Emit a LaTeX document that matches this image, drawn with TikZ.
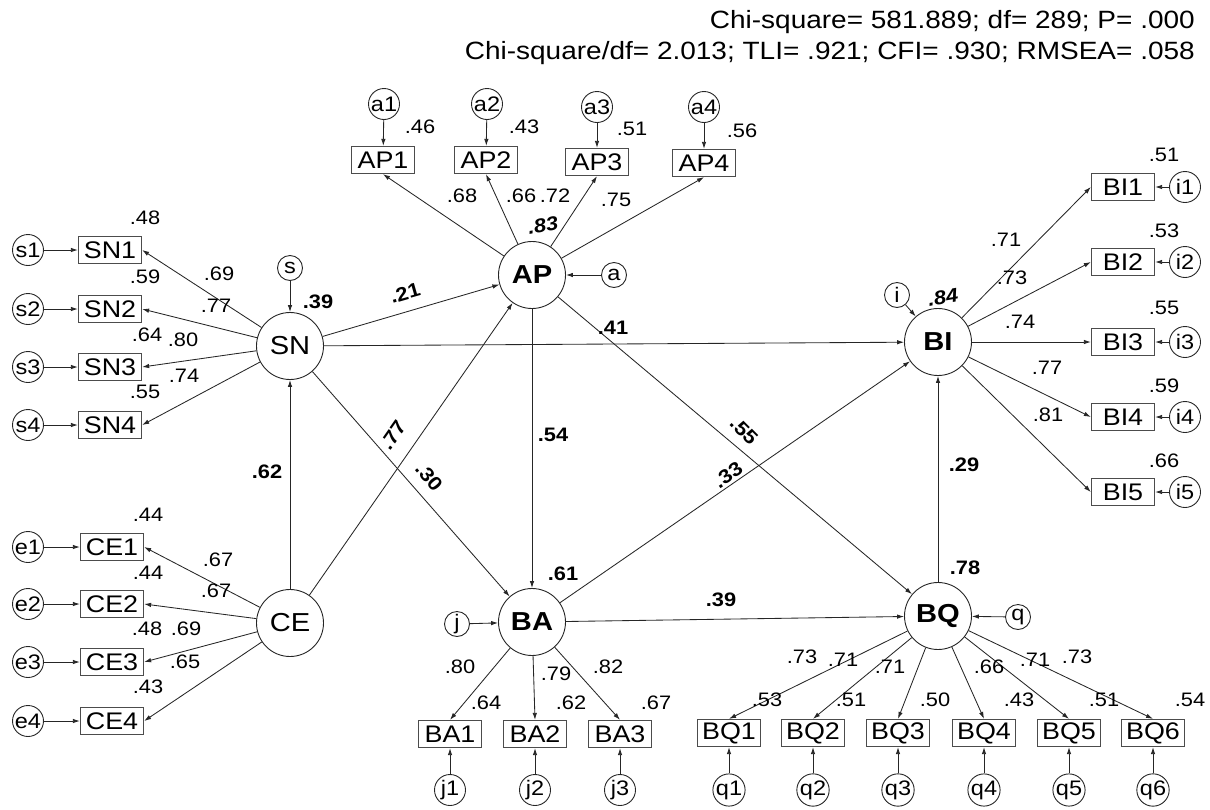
\documentclass[tikz,border=0pt]{standalone}
\usepackage{fontspec}
\setmainfont{Liberation Sans}[FakeStretch=1.12]
\usetikzlibrary{arrows.meta}
\tikzset{
  lat/.style={circle, draw=black!85, line width=0.9pt, minimum size=67pt, inner sep=0pt, font=\fontsize{26}{26}\selectfont},
  latb/.style={lat, font=\fontsize{26}{26}\selectfont\bfseries},
  obs/.style={rectangle, draw=black!70, line width=1.3pt, minimum width=63pt, minimum height=27pt, inner sep=0pt, font=\fontsize{24}{24}\selectfont},
  err/.style={circle, draw=black!85, line width=0.9pt, minimum size=31pt, inner sep=0pt, font=\fontsize{21}{21}\selectfont},
  errs/.style={circle, draw=black!85, line width=0.9pt, minimum size=25pt, inner sep=0pt, font=\fontsize{21}{21}\selectfont},
  num/.style={inner sep=0pt, font=\fontsize{19.5}{19.5}\selectfont},
  bnum/.style={inner sep=0pt, font=\fontsize{19.5}{19.5}\selectfont\bfseries},
  inum/.style={inner sep=0pt, font=\fontsize{19.5}{19.5}\selectfont\bfseries\itshape},
  hdr/.style={inner sep=0pt, anchor=base east, font=\fontsize{25}{25}\selectfont},
  arr/.style={-{Latex[length=7pt,width=4.5pt]}, line width=0.85pt, draw=black!85}
}
\begin{document}
\begin{tikzpicture}[x=1pt,y=-1pt]
\path[use as bounding box] (0,0) rectangle (1210,809);
% header
\node[hdr] (h1) at (1195,28) {Chi-square= 581.889; df= 289; P= .000};
\node[hdr] (h2) at (1195,59) {Chi-square/df= 2.013; TLI= .921; CFI= .930; RMSEA= .058};
% latent
\node[latb] (AP) at (532,275) {AP};
\node[lat]  (SN) at (290,346) {SN};
\node[lat]  (CE) at (290,623) {CE};
\node[latb] (BA) at (532,622) {BA};
\node[latb] (BQ) at (938,616) {BQ};
\node[latb] (BI) at (938,342) {BI};
% disturbances
\node[errs] (a) at (614,275) {a};
\node[errs] (s) at (290,268) {s};
\node[errs] (i) at (897,295) {i};
\node[errs] (j) at (457,624) {j};
\node[errs] (q) at (1018,617) {q};
% AP indicators
\node[obs] (AP1) at (383,160) {AP1};
\node[obs] (AP2) at (486,160) {AP2};
\node[obs] (AP3) at (597,162) {AP3};
\node[obs] (AP4) at (704,163) {AP4};
\node[err] (a1) at (384,104) {a1};
\node[err] (a2) at (487,104) {a2};
\node[err] (a3) at (597,107) {a3};
\node[err] (a4) at (704,107) {a4};
% SN indicators
\node[obs] (SN1) at (110,250) {SN1};
\node[obs] (SN2) at (110,309) {SN2};
\node[obs] (SN3) at (110,367) {SN3};
\node[obs] (SN4) at (110,425) {SN4};
\node[err] (s1) at (28,250) {s1};
\node[err] (s2) at (28,309) {s2};
\node[err] (s3) at (28,367) {s3};
\node[err] (s4) at (28,425) {s4};
% CE indicators
\node[obs] (CE1) at (112,547) {CE1};
\node[obs] (CE2) at (112,604) {CE2};
\node[obs] (CE3) at (112,662) {CE3};
\node[obs] (CE4) at (112,721) {CE4};
\node[err] (e1) at (28,547) {e1};
\node[err] (e2) at (28,604) {e2};
\node[err] (e3) at (28,662) {e3};
\node[err] (e4) at (28,721) {e4};
% BI indicators
\node[obs] (BI1) at (1123,187) {BI1};
\node[obs] (BI2) at (1123,262) {BI2};
\node[obs] (BI3) at (1123,342) {BI3};
\node[obs] (BI4) at (1123,417) {BI4};
\node[obs] (BI5) at (1123,492) {BI5};
\node[err] (i1) at (1185,187) {i1};
\node[err] (i2) at (1185,262) {i2};
\node[err] (i3) at (1185,342) {i3};
\node[err] (i4) at (1185,417) {i4};
\node[err] (i5) at (1185,492) {i5};
% BA indicators
\node[obs] (BA1) at (450,734) {BA1};
\node[obs] (BA2) at (535,734) {BA2};
\node[obs] (BA3) at (620,734) {BA3};
\node[err] (j1) at (450,790) {j1};
\node[err] (j2) at (535,790) {j2};
\node[err] (j3) at (620,790) {j3};
% BQ indicators
\node[obs] (BQ1) at (729,733) {BQ1};
\node[obs] (BQ2) at (813,733) {BQ2};
\node[obs] (BQ3) at (898,733) {BQ3};
\node[obs] (BQ4) at (984,733) {BQ4};
\node[obs] (BQ5) at (1069,733) {BQ5};
\node[obs] (BQ6) at (1153,733) {BQ6};
\node[err] (q1) at (729,790) {q1};
\node[err] (q2) at (813,790) {q2};
\node[err] (q3) at (898,790) {q3};
\node[err] (q4) at (984,790) {q4};
\node[err] (q5) at (1069,790) {q5};
\node[err] (q6) at (1153,790) {q6};
% measurement arrows
\foreach \k in {1,2,3,4} {
  \draw[arr] (a\k) -- (AP\k);
  \draw[arr] (AP) -- (AP\k.south);
  \draw[arr] (s\k) -- (SN\k);
  \draw[arr] (SN) -- (SN\k.east);
  \draw[arr] (e\k) -- (CE\k);
  \draw[arr] (CE) -- (CE\k.east);
}
\foreach \k in {1,2,3,4,5} {
  \draw[arr] (i\k) -- (BI\k);
  \draw[arr] (BI) -- (BI\k.west);
}
\foreach \k in {1,2,3} {
  \draw[arr] (j\k) -- (BA\k);
  \draw[arr] (BA) -- (BA\k.north);
}
\foreach \k in {1,2,3,4,5,6} {
  \draw[arr] (q\k) -- (BQ\k);
  \draw[arr] (BQ) -- (BQ\k.north);
}
% structural arrows
\draw[arr] (SN) -- (AP);
\draw[arr] (SN) -- (BI);
\draw[arr] (SN) -- (BA);
\draw[arr] (CE) -- (SN);
\draw[arr] (CE) -- (AP);
\draw[arr] (AP) -- (BA);
\draw[arr] (AP) -- (BQ);
\draw[arr] (BA) -- (BI);
\draw[arr] (BA) -- (BQ);
\draw[arr] (BQ) -- (BI);
\draw[arr] (s) -- (SN);
\draw[arr] (a) -- (AP);
\draw[arr] (i) -- (BI);
\draw[arr] (j) -- (BA);
\draw[arr] (q) -- (BQ);
% AP labels
\node[num] (l1) at (420,127) {.46};
\node[num] (l2) at (524,127) {.43};
\node[num] (l3) at (632,129) {.51};
\node[num] (l4) at (742,131) {.56};
\node[num] (l5) at (462,196) {.68};
\node[num] (l6) at (521,196) {.66};
\node[num] (l7) at (555,196) {.72};
\node[num] (l8) at (616,200) {.75};
\node[inum,rotate=10] (l9) at (543,225) {.83};
% SN labels
\node[num] (l10) at (145,218) {.48};
\node[num] (l11) at (145,277) {.59};
\node[num] (l12) at (147,335) {.64};
\node[num] (l13) at (145,392) {.55};
\node[num] (l14) at (219,274) {.69};
\node[num] (l15) at (216,306) {.77};
\node[num] (l16) at (183,340) {.80};
\node[num] (l17) at (184,376) {.74};
\node[bnum] (l18) at (318,302) {.39};
% CE labels
\node[num] (l19) at (148,515) {.44};
\node[num] (l20) at (148,573) {.44};
\node[num] (l21) at (147,629) {.48};
\node[num] (l22) at (186,629) {.69};
\node[num] (l23) at (185,662) {.65};
\node[num] (l24) at (148,687) {.43};
\node[num] (l25) at (218,560) {.67};
\node[num] (l26) at (216,591) {.67};
\node[bnum] (l27) at (267,472) {.62};
% structural labels
\node[bnum,rotate=16] (l28) at (405,293) {.21};
\node[bnum] (l29) at (613,328) {.41};
\node[bnum,rotate=55] (l30) at (393,435) {.77};
\node[bnum,rotate=-50] (l31) at (429,477) {.30};
\node[bnum,rotate=-45] (l33) at (744,431) {.55};
\node[bnum] (l32) at (553,435) {.54};
\node[bnum,rotate=35] (l34) at (728,475) {.33};
\node[bnum] (l35) at (563,574) {.61};
\node[bnum] (l36) at (721,600) {.39};
\node[bnum] (l37) at (965,568) {.78};
\node[bnum] (l38) at (964,465) {.29};
\node[inum,rotate=10] (l39) at (943,297) {.84};
% BA labels
\node[num] (l40) at (460,667) {.80};
\node[num] (l41) at (556,674) {.79};
\node[num] (l42) at (608,667) {.82};
\node[num] (l43) at (486,703) {.64};
\node[num] (l44) at (571,703) {.62};
\node[num] (l45) at (656,703) {.67};
% BQ labels
\node[num] (l46) at (802,657) {.73};
\node[num] (l47) at (843,660) {.71};
\node[num] (l48) at (890,667) {.71};
\node[num] (l49) at (989,667) {.66};
\node[num] (l50) at (1035,660) {.71};
\node[num] (l51) at (1077,657) {.73};
\node[num] (l52) at (767,700) {.53};
\node[num] (l53) at (851,700) {.51};
\node[num] (l54) at (935,700) {.50};
\node[num] (l55) at (1019,700) {.43};
\node[num] (l56) at (1104,700) {.51};
\node[num] (l57) at (1190,700) {.54};
% BI labels
\node[num] (l58) at (1164,155) {.51};
\node[num] (l59) at (1164,231) {.53};
\node[num] (l60) at (1164,308) {.55};
\node[num] (l61) at (1164,386) {.59};
\node[num] (l62) at (1164,461) {.66};
\node[num] (l63) at (1006,240) {.71};
\node[num] (l64) at (1012,278) {.73};
\node[num] (l65) at (1020,322) {.74};
\node[num] (l66) at (1047,368) {.77};
\node[num] (l67) at (1048,415) {.81};
\end{tikzpicture}
\end{document}
